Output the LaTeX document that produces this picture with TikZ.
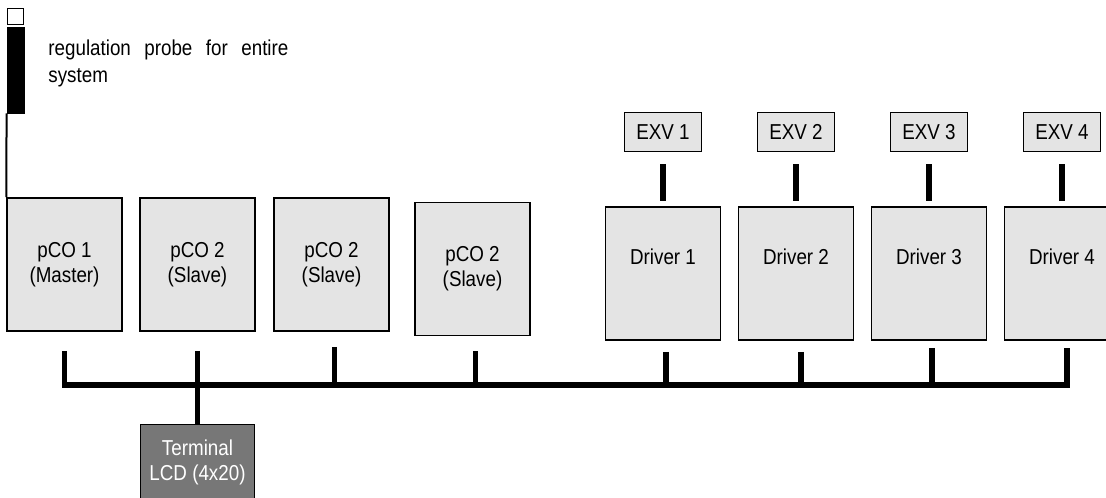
\documentclass[tikz,border=0pt]{standalone}
\usepackage{fontspec}
\setmainfont{Liberation Sans}[FakeStretch=0.87]
\usetikzlibrary{positioning}
\definecolor{boxgray}{HTML}{E4E4E4}
\definecolor{termgray}{HTML}{777777}

\begin{document}
\begin{tikzpicture}[x=0.5pt, y=-0.5pt,
    font=\fontsize{10.8pt}{12.5pt}\selectfont,
    box/.style={rectangle, draw, line width=0.75pt, fill=boxgray, inner sep=0pt, align=center},
    unit/.style={box, minimum width=57.5pt, minimum height=66.5pt},
    driver/.style={unit, text height=7.7pt, text depth=16.5pt},
    valve/.style={box, minimum width=38.5pt, minimum height=19.5pt},
    terminal/.style={box, fill=termgray, text=white, minimum width=57pt, minimum height=38pt},
    wire/.style={line width=2.7pt},
    probeline/.style={line width=1pt},
    ]

    \useasboundingbox (0,0) rectangle (1106,497);
    \clip (0,0) rectangle (1106,497);

    % Probe
    \node [draw, line width=0.75pt, fill=white, minimum size=8pt, inner sep=0pt] (tip) at (15.5,16.5) {};
    \node [draw, fill=black, minimum width=8.5pt, minimum height=43pt, inner sep=0pt] (probe) at (15.5,70) {};
    \node [anchor=north west, text width=120pt, align=justify, inner sep=0pt,
           font=\fontsize{10.8pt}{13.5pt}\selectfont] (probetext) at (48,39) {regulation probe for entire system};

    % pCO boards
    \node [unit] (pco1) at (64.5,264.5) {pCO 1\\(Master)};
    \node [unit, right=8.25pt of pco1] (pco2) {pCO 2\\(Slave)};
    \node [unit, right=8.75pt of pco2] (pco3) {pCO 2\\(Slave)};
    \node [unit] (pco4) at (472.5,269) {pCO 2\\(Slave)};

    % Drivers
    \node [driver] (drv1) at (663,273.5) {Driver 1};
    \node [driver, right=8.25pt of drv1] (drv2) {Driver 2};
    \node [driver, right=8.25pt of drv2] (drv3) {Driver 3};
    \node [driver, right=8.25pt of drv3] (drv4) {Driver 4};

    % Valves
    \node [valve, above=27pt of drv1] (exv1) {EXV 1};
    \node [valve, above=27pt of drv2] (exv2) {EXV 2};
    \node [valve, above=27pt of drv3] (exv3) {EXV 3};
    \node [valve, above=27pt of drv4] (exv4) {EXV 4};

    % Terminal
    \node [terminal, below=46pt of pco2, anchor=north] (term) {Terminal\\LCD (4x20)};

    % Probe cable
    \draw [probeline] (probe.south west) -- (pco1.north west);

    % Valve cables
    \draw [wire] ([yshift=-6pt]exv1.south) -- ([yshift=2.5pt]drv1.north);
    \draw [wire] ([yshift=-6pt]exv2.south) -- ([yshift=2.5pt]drv2.north);
    \draw [wire] ([yshift=-6pt]exv3.south) -- ([yshift=2.5pt]drv3.north);
    \draw [wire] ([yshift=-6pt]exv4.south) -- ([yshift=2.5pt]drv4.north);

    % Bus
    \coordinate (bus) at (0,385);
    \draw [wire] ([yshift=-9.5pt]pco1.south) |- ([xshift=2.5pt]drv4.south |- bus)
        -- ([xshift=2.5pt, yshift=-3.5pt]drv4.south);
    \draw [wire] ([yshift=-9.5pt]pco2.south) -- (term.north);
    \draw [wire] ([xshift=1.5pt, yshift=-7.5pt]pco3.south) -- ([xshift=1.5pt]pco3.south |- bus);
    \draw [wire] ([xshift=1.5pt, yshift=-7.5pt]pco4.south) -- ([xshift=1.5pt]pco4.south |- bus);
    \draw [wire] ([xshift=1.5pt, yshift=-5.5pt]drv1.south) -- ([xshift=1.5pt]drv1.south |- bus);
    \draw [wire] ([xshift=2.5pt, yshift=-5.5pt]drv2.south) -- ([xshift=2.5pt]drv2.south |- bus);
    \draw [wire] ([xshift=1.5pt, yshift=-3.5pt]drv3.south) -- ([xshift=1.5pt]drv3.south |- bus);

\end{tikzpicture}
\end{document}
